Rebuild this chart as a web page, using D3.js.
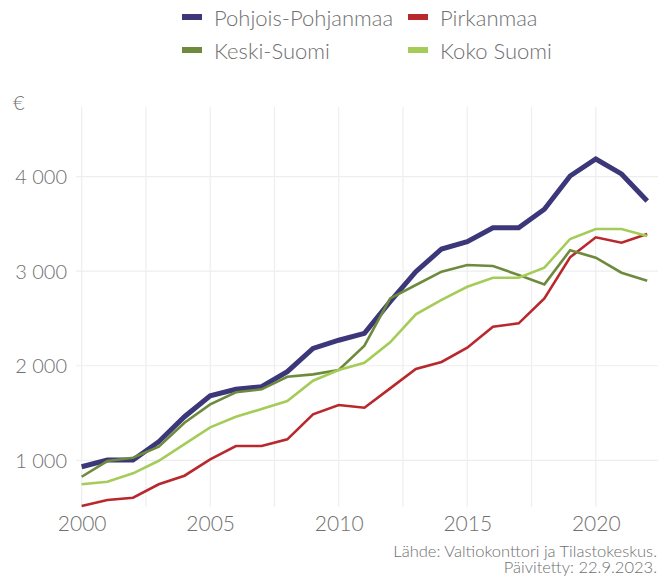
<!DOCTYPE html>
<html>
<head>
<meta charset="utf-8">
<script src="https://cdn.jsdelivr.net/npm/d3@7"></script>
<style>
  body { margin: 0; background: #fff; }
  text { font-family: Lato, "Open Sans", sans-serif; font-weight: 300; fill: #707070; }
</style>
</head>
<body>
<svg width="667" height="579"></svg>
<script>
var years = d3.range(2000, 2023);

var pohjoisPohjanmaa = [932, 1003, 1003, 1197, 1461, 1683, 1751, 1779, 1937, 2184, 2270,
  2343, 2678, 2995, 3235, 3312, 3460, 3460, 3655, 4007, 4187, 4029, 3743];
var pirkanmaa = [516, 580, 604, 746, 837, 1010, 1151, 1151, 1222, 1486, 1585,
  1556, 1761, 1966, 2040, 2191, 2413, 2449, 2713, 3147, 3359, 3302, 3394];
var keskiSuomi = [826, 992, 1027, 1144, 1397, 1592, 1719, 1751, 1884, 1909, 1955,
  2212, 2713, 2854, 2995, 3066, 3055, 2960, 2861, 3221, 3143, 2984, 2900];
var kokoSuomi = [746, 773, 862, 995, 1172, 1349, 1461, 1542, 1627, 1842, 1955,
  2031, 2248, 2544, 2697, 2836, 2931, 2931, 3037, 3341, 3447, 3447, 3373];

var seriesNames = ["Pohjois-Pohjanmaa", "Pirkanmaa", "Keski-Suomi", "Koko Suomi"];
var seriesColors = ["#3b3779", "#b8282d", "#6e8b3d", "#a5cc58"];
var seriesWidths = [5, 2.6, 2.6, 2.6];
var seriesValues = [pohjoisPohjanmaa, pirkanmaa, keskiSuomi, kokoSuomi];

var xTicks = [2000, 2005, 2010, 2015, 2020];
var xMinor = [2002.5, 2007.5, 2012.5, 2017.5];
var yTicks = [1000, 2000, 3000, 4000];

var svg = d3.select("svg");

// plot box (names avoid window.top)
var pLeft = 76, pRight = 658, pTop = 107, pBottom = 507;

var x = d3.scaleLinear().domain([1999.78, 2022.42]).range([pLeft, pRight]);
var y = d3.scaleLinear().domain([506, 4737]).range([pBottom, pTop]);

// GRID

var grid = svg.append("g").attr("class", "grid");

grid.selectAll("line.v")
  .data(xTicks.concat(xMinor))
  .enter().append("line")
    .attr("x1", function(d) { return x(d); })
    .attr("x2", function(d) { return x(d); })
    .attr("y1", pTop)
    .attr("y2", pBottom)
    .attr("stroke", "#eeeeee")
    .attr("stroke-width", 1.2);

grid.selectAll("line.h")
  .data(yTicks)
  .enter().append("line")
    .attr("x1", pLeft)
    .attr("x2", pRight)
    .attr("y1", function(d) { return y(d); })
    .attr("y2", function(d) { return y(d); })
    .attr("stroke", "#eeeeee")
    .attr("stroke-width", 1.2);

// AXES

var fmt = function(d) { return d3.format(",")(d).replace(",", " "); };

var yAxis = svg.append("g")
    .attr("transform", "translate(" + (pLeft - 9) + ",0)")
    .call(d3.axisLeft(y).tickValues(yTicks).tickFormat(fmt).tickSize(0).tickPadding(0));
yAxis.select(".domain").remove();
yAxis.selectAll("text")
    .attr("font-size", 20)
    .attr("dy", "0.36em")
    .style("font-family", "Lato, sans-serif")
    .style("font-weight", 300)
    .attr("fill", "#707070");

var xAxis = svg.append("g")
    .attr("transform", "translate(0," + pBottom + ")")
    .call(d3.axisBottom(x).tickValues(xTicks).tickFormat(d3.format("d")).tickSize(0).tickPadding(0));
xAxis.select(".domain").remove();
xAxis.selectAll("text")
    .attr("font-size", 21)
    .attr("y", 24)
    .attr("dy", 0)
    .style("font-family", "Lato, sans-serif")
    .style("font-weight", 300)
    .attr("fill", "#707070");

svg.append("text")
    .attr("x", 13)
    .attr("y", 110)
    .attr("font-size", 20)
    .text("€");

// LINES

var line = d3.line()
    .x(function(d, i) { return x(years[i]); })
    .y(function(d) { return y(d); });

svg.append("g")
    .attr("class", "lines")
  .selectAll("path")
  .data(seriesValues)
  .enter().append("path")
    .attr("d", line)
    .attr("fill", "none")
    .attr("stroke", function(d, i) { return seriesColors[i]; })
    .attr("stroke-width", function(d, i) { return seriesWidths[i]; })
    .attr("stroke-linejoin", "miter");

// LEGEND

var legendPos = [[182, 17], [408, 17], [182, 50], [408, 50]];

var legend = svg.append("g")
    .attr("class", "legend")
  .selectAll("g")
  .data(seriesNames)
  .enter().append("g")
    .attr("transform", function(d, i) { return "translate(" + legendPos[i][0] + "," + legendPos[i][1] + ")"; });

legend.append("rect")
    .attr("x", 0)
    .attr("y", -3)
    .attr("width", 20)
    .attr("height", 6)
    .attr("fill", function(d, i) { return seriesColors[i]; });

legend.append("text")
    .attr("x", 32)
    .attr("y", 9)
    .attr("font-size", 22)
    .text(function(d) { return d; });

// SOURCE

svg.append("text")
    .attr("x", 657)
    .attr("y", 556.5)
    .attr("text-anchor", "end")
    .attr("font-size", 16.5)
    .text("Lähde: Valtiokonttori ja Tilastokeskus.");

svg.append("text")
    .attr("x", 657)
    .attr("y", 573)
    .attr("text-anchor", "end")
    .attr("font-size", 16.5)
    .text("Päivitetty: 22.9.2023.");
</script>
</body>
</html>
